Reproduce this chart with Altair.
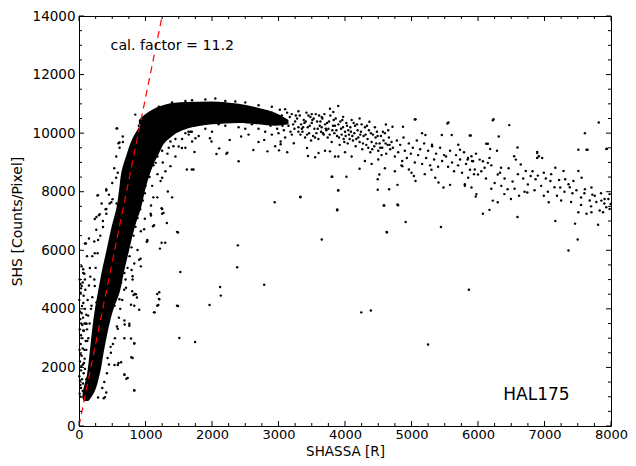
import altair as alt
import pandas as pd

# ---- dense core of the distribution (filled regions) ----
# rising branch: for each SHS level, left and right edge of the solid black band
rise_y = [850, 1000, 1750, 2500, 3200, 4000, 4540, 5300, 6020, 6800, 7470, 8100, 8700, 9300, 9800, 10200, 10400]
rise_xlo = [70, 50, 120, 160, 193, 240, 282, 345, 415, 490, 565, 605, 640, 720, 800, 900, 950]
rise_xhi = [140, 190, 310, 370, 430, 520, 608, 680, 755, 840, 935, 1000, 1080, 1200, 1350, 1700, 2200]

# saturated branch: for each SHASSA value, lower and upper edge of the solid black band
plat_x = [900, 1000, 1100, 1300, 1600, 2000, 2400, 2700, 2950, 3150]
plat_ylo = [10300, 10250, 10200, 10150, 10200, 10300, 10350, 10300, 10250, 10300]
plat_yhi = [10450, 10650, 10800, 10980, 11060, 11080, 11000, 10860, 10700, 10450]

# ---- individual points (SHASSA [R], SHS [Counts/Pixel]) ----
pts = [
    # left fringe / near axis
    (10, 1100), (20, 1400), (5, 1700), (30, 1900), (15, 2200), (40, 2400), (8, 2600), (25, 2800),
    (50, 3000), (12, 3300), (35, 3500), (60, 3700), (18, 3900), (45, 4100), (5, 4300), (70, 4450),
    (30, 4700), (55, 4900), (10, 5000), (80, 5200), (40, 5450), (64, 5350), (104, 6235), (120, 5800),
    (150, 6400), (20, 4850), (90, 4000), (100, 3500), (120, 3300), (80, 2600), (60, 2100), (100, 2900),
    (30, 1300), (45, 1600), (70, 1800), (85, 2300), (110, 3800), (130, 4300), (150, 4800), (170, 5100),
    (200, 5800), (230, 6300), (260, 6700), (300, 7200), (340, 7600), (287, 7884), (410, 8086),
    (485, 7638), (460, 7600), (559, 8480), (583, 8650), (574, 10163), (608, 9681), (658, 9883),
    (846, 10633), (565, 10160), (594, 9658), (411, 8040), (277, 7870), (237, 7070), (312, 7235),
    (504, 7740), (565, 7600),
    (163, 5394), (89, 5004), (40, 4778), (237, 4778), (312, 4442), (262, 4217), (188, 4105),
    (138, 3769), (114, 3490), (64, 3264), (212, 3207), (287, 3432), (411, 7246), (361, 6797),
    (287, 6350), (237, 5899), (262, 7134), (411, 7413), (89, 6235), (64, 5226),
    (25, 1000), (55, 1200), (15, 1550), (60, 1450), (35, 2050), (75, 2150), (20, 2450), (55, 2650),
    (30, 3100), (75, 3250), (50, 3450), (20, 3650), (85, 3500), (40, 3850), (65, 4200), (25, 4550),
    (95, 4650), (110, 2600), (125, 2900), (90, 1950), (110, 1600), (140, 3000), (160, 3500),
    (180, 4000), (200, 4400), (230, 5000), (250, 5400), (280, 5900), (320, 6500), (360, 7000),
    (400, 7400), (450, 7900), (500, 8300), (530, 8800), (560, 9200), (610, 9500), (660, 9700),
    # right fringe of rising band
    (371, 950), (391, 986), (594, 2150), (633, 2177), (683, 1760), (712, 1615), (831, 1222),
    (787, 2345), (831, 2816), (687, 3466), (757, 3422), (905, 3971), (782, 4139), (800, 4600),
    (820, 4470), (841, 4509), (871, 4385), (806, 5004), (791, 5327), (831, 5552), (925, 5710),
    (1019, 6293), (979, 6720), (930, 6653), (990, 7077), (1028, 6316), (1083, 7191), (1113, 6821),
    (1138, 3880), (1192, 4129), (1207, 4331), (1207, 4566), (1217, 6057), (1242, 6259), (1296, 6259),
    (1242, 7437), (1272, 7278), (1321, 6932), (1336, 8009), (1400, 7807), (1118, 7807), (1177, 7807),
    (1083, 7527), (1489, 6606), (1524, 5260), (1489, 4095), (1509, 3005), (1746, 2871), (1963, 4129),
    (2122, 4745), (2132, 4452), (2379, 5418), (2389, 6168), (2785, 4822), (2943, 7639), (3329, 7807),
    (3651, 6370), (3883, 7369), (3898, 8042), (4244, 3880), (4388, 3947), (5249, 2783), (5862, 4654),
    (4630, 6606), (5442, 6797), (7499, 6370), (7361, 5990),
    (583, 3321), (683, 2995), (475, 2702), (430, 2322), (534, 2086), (583, 2086), (683, 1750),
    (732, 1639), (831, 1211), (410, 1144), (287, 976), (782, 2985), (806, 2322), (831, 2827),
    (583, 6740), (633, 6908), (732, 6350), (782, 6572), (905, 5677), (1028, 6350), (1078, 7246),
    (1128, 6852), (1251, 7413), (1251, 7246), (1474, 6629), (683, 5226), (806, 5115), (856, 4499),
    (831, 4105), (1177, 4509), (1202, 4341), (1177, 4105), (1474, 4105), (1128, 3880), (683, 3600),
    (757, 3490), (534, 4105), (608, 4330), (633, 4890), (707, 4720), (880, 6013), (930, 5451),
    (350, 1300), (420, 1800), (480, 2500), (540, 3000), (600, 3700), (650, 4300), (700, 5000),
    (760, 5800), (820, 6500), (880, 7100), (960, 7700), (1000, 8200), (1060, 8500), (1120, 8900),
    (1180, 9200), (1260, 9000), (1330, 9300), (1420, 9550), (1550, 9800), (1650, 9950),
    (1100, 8200), (1180, 8600), (1300, 8700), (1450, 9200), (1600, 9500), (1800, 9900), (2000, 10050),
    (380, 1500), (450, 2100), (510, 2800), (570, 3400), (620, 4000), (680, 4650), (730, 5400),
    (790, 6100), (850, 6800), (920, 7400), (990, 7950), (1040, 8700), (1100, 9050),
    # plateau lower fringe
    (1697, 8760), (1622, 8760), (1375, 8873), (1251, 8480), (1227, 8368), (1548, 9490),
    (1499, 9547), (1153, 8985), (1647, 10050), (1697, 10050), (1375, 9715), (1736, 9355), (1721, 8759),
    (2067, 9288), (2216, 9298), (2400, 9042), (2622, 9422), (2834, 9378), (3008, 9412), (3131, 9345),
    (3443, 9220), (3551, 9176), (3809, 8513), (3329, 7830), (2107, 9480), (2230, 9330), (1993, 9715),
    (1969, 9826), (1751, 9826), (1701, 9715), (1672, 10050), (2266, 9770), (2438, 9883), (3032, 9715),
    (3032, 9624), (2785, 9770), (3230, 9658), (3428, 9490), (3602, 9321), (3774, 9378), (3850, 9200),
    (1300, 9900), (1400, 10100), (1550, 10200), (1600, 10000), (1800, 10300), (1900, 10150),
    (2000, 10350), (2200, 10250), (2300, 10400), (2500, 10150), (2600, 10300), (2800, 10050),
    (2900, 9950), (3100, 9850), (1200, 9700), (1100, 9500), (1050, 9300), (1000, 9100), (1150, 9250),
    (950, 9600), (1250, 9400), (1350, 9500), (1450, 9800), (2550, 9950), (2700, 9700), (2950, 9550),
    (2100, 10300), (2400, 10200), (2700, 10150), (3000, 10000), (3200, 9950), (3300, 10050),
    # plateau top fringe
    (1400, 11050), (1600, 11100), (1900, 11150), (2200, 11100), (2500, 11050), (2700, 10950),
    (2900, 10900), (3100, 10820), (1700, 11120), (2050, 11180), (2350, 11080), (1200, 10900),
    (1000, 10550), (900, 10250), (3300, 10750), (3500, 10650), (3650, 10550),
    # end of dense plateau 2800-3300
    (2800, 10600), (2850, 10400), (2900, 10700), (2950, 10500), (3000, 10350), (3050, 10600),
    (3100, 10450), (3150, 10250), (3200, 10650), (3250, 10400), (3300, 10200), (2880, 10250),
    (2980, 10150), (3080, 10100), (3180, 10050), (3220, 10300), (3280, 10500), (2830, 10750),
    (3130, 10700), (3020, 10800), (3170, 10550), (3240, 10150), (3260, 10600), (3060, 10250),
    # tail 3300-3700
    (3320, 10600), (3340, 10300), (3360, 10050), (3380, 10450), (3400, 9850), (3420, 10700),
    (3440, 10200), (3460, 10000), (3480, 10550), (3500, 10350), (3520, 9900), (3540, 10150),
    (3560, 10650), (3580, 10400), (3600, 9800), (3620, 10250), (3640, 10050), (3660, 10500),
    (3680, 9950), (3700, 10300), (3330, 9950), (3370, 10200), (3410, 10400), (3450, 10600),
    (3490, 9750), (3530, 10500), (3570, 10000), (3610, 10600), (3650, 10200), (3690, 10650),
    (3350, 10150), (3390, 10350), (3430, 9950), (3470, 10250), (3510, 10450), (3550, 9850),
    (3590, 10150), (3630, 10400), (3670, 10000), (3710, 10150),
    # tail 3700-4200
    (3720, 10100), (3740, 9850), (3760, 10400), (3780, 10600), (3800, 9700), (3820, 10250),
    (3840, 10000), (3860, 10500), (3880, 9900), (3900, 10300), (3920, 9600), (3940, 10150),
    (3960, 10450), (3980, 9800), (4000, 10050), (4020, 10350), (4040, 9650), (4060, 9950),
    (4080, 10200), (4100, 10450), (4120, 9750), (4140, 10000), (4160, 9550), (4180, 10300),
    (4200, 9850), (3750, 10150), (3850, 10250), (3950, 9950), (4050, 10100), (4150, 10250),
    (3898, 10926), (3774, 10835), (3824, 10724), (3972, 10556),
    (3730, 10350), (3770, 9950), (3810, 10100), (3830, 10450), (3870, 10100), (3910, 9850),
    (3930, 10400), (3970, 10200), (3990, 9700), (4010, 9900), (4030, 10250), (4070, 9800),
    (4090, 10050), (4110, 9900), (4130, 10350), (4170, 9800), (4190, 10100),
    # tail 4200-4700
    (4219, 10499), (4367, 10387), (4615, 10297), (4714, 10219), (4220, 9700), (4240, 10050),
    (4260, 9450), (4280, 9900), (4300, 10200), (4320, 9600), (4340, 9800), (4360, 10100),
    (4380, 9350), (4400, 9700), (4420, 9950), (4440, 9550), (4460, 9850), (4480, 10050),
    (4500, 9400), (4520, 9650), (4540, 9900), (4560, 9500), (4580, 9750), (4600, 10000),
    (4620, 9300), (4640, 9600), (4660, 9850), (4680, 9450), (4700, 9700), (4250, 10300),
    (4350, 9500), (4450, 10200), (4550, 9250), (4650, 10100),
    (4230, 9950), (4270, 9650), (4310, 9950), (4330, 10250), (4390, 10000), (4410, 9450),
    (4470, 9650), (4490, 9900), (4530, 9500), (4570, 10050), (4610, 9650), (4670, 9600),
    # tail 4700-5500
    (4720, 9500), (4750, 9200), (4780, 9750), (4800, 9350), (4830, 9600), (4860, 9050),
    (4880, 9850), (4900, 9400), (4930, 9150), (4960, 9650), (4990, 9300), (5020, 9500),
    (5050, 9000), (5080, 9750), (5100, 9250), (5130, 9450), (5160, 8950), (5190, 9650),
    (5220, 9150), (5250, 9400), (5280, 8900), (5310, 9550), (5340, 9100), (5370, 9300),
    (5400, 8850), (5430, 9500), (5460, 9050), (5490, 9250), (4872, 10219), (5050, 10465),
    (5159, 9994), (5209, 9937), (5555, 10364), (5605, 9937), (5891, 9917), (5703, 9601),
    (5728, 9432), (5456, 9937), (5308, 9601),
    (3799, 8513), (4022, 8513), (3898, 8053), (4219, 8783), (4492, 8423), (4516, 8591),
    (4664, 8086), (4789, 8234), (5035, 8536), (5060, 8368), (5357, 8480), (5406, 8312),
    (5481, 8143), (5580, 8234), (5802, 8200), (5902, 8143), (4862, 8873), (4961, 8760),
    (4590, 7527), (4789, 7561), (4492, 8066), (4581, 7527), (4798, 7538), (4626, 6629),
    (4912, 6966), (3883, 7393), (5966, 7840),
    (4100, 9200), (4300, 9050), (4400, 8950), (4600, 8800), (4750, 8700), (5000, 8650),
    (5200, 8600), (5300, 8750), (4500, 9100), (4850, 8900), (3700, 9400), (3900, 9200), (4000, 9350),
    # tail 5500-6000
    (5520, 9200), (5550, 8850), (5580, 9400), (5610, 9000), (5640, 8700), (5670, 9250),
    (5700, 8900), (5730, 9100), (5760, 8650), (5790, 9350), (5820, 8950), (5850, 9150),
    (5880, 8750), (5910, 9050), (5940, 8600), (5970, 9300), (5902, 9210), (5843, 9096),
    (5926, 9042), (6025, 9096), (5802, 8255), (5852, 8480), (6000, 8591), (5951, 8760), (5976, 7918),
    # tail 6000-8000
    (6074, 9042), (6099, 8816), (6148, 8985), (6173, 9155), (6347, 8816), (6297, 8591),
    (6544, 9210), (6569, 9096), (6643, 8928), (6718, 8705), (6890, 9321), (6915, 9210),
    (6792, 8536), (6866, 8423), (6990, 8648), (7089, 8368), (7163, 8816), (7286, 8705),
    (7311, 8423), (7361, 8255), (7435, 8368), (7509, 8705), (7558, 8480), (7608, 8086),
    (7706, 8143), (7756, 7863), (7855, 7696), (7904, 7750), (7979, 7918), (7995, 7582),
    (7830, 7359), (7929, 7470), (7979, 7413), (7509, 7302), (7632, 7246), (7706, 7302),
    (7237, 8143), (7188, 7863), (6990, 7863), (7064, 7638), (6742, 7975), (6618, 7863),
    (6445, 8086), (6396, 7918), (6495, 7750), (6223, 7696), (6297, 7638), (6074, 7246),
    (6594, 7134), (6124, 9635), (6148, 9635), (6286, 9399), (6183, 9460), (6223, 10442),
    (6470, 10274), (6312, 9883), (5877, 9917), (7608, 9994), (7816, 10364), (7632, 9432),
    (7509, 9432), (7929, 9456), (6890, 9360), (6890, 9155), (6594, 9511), (6233, 10475),
    (5540, 10330), (5060, 10475), (6173, 7380), (7163, 7000), (7460, 6910), (7806, 6875),
    (6965, 9150), (7648, 9432), (7939, 9466),
    (6050, 8700), (6120, 8450), (6200, 8900), (6250, 8300), (6330, 8650), (6400, 8450),
    (6460, 8800), (6520, 8350), (6600, 8600), (6680, 8450), (6750, 8250), (6820, 8700),
    (6900, 8550), (6950, 8200), (7020, 8450), (7100, 8600), (7150, 8150), (7220, 8400),
    (7300, 8000), (7380, 8150), (7420, 7950), (7480, 8050), (7550, 7800), (7600, 7950),
    (7680, 7700), (7720, 7900), (7780, 7650), (7850, 7950), (7900, 7600), (7960, 7750),
    (6200, 8100), (6350, 8200), (6550, 8100), (6700, 8000), (6850, 8050), (7050, 8000),
    (7250, 7700), (7400, 7650), (7550, 7550), (7700, 7500), (7880, 7300),
]
pt_x = [p[0] for p in pts]
pt_y = [p[1] for p in pts]

# calibration line (cal. factor = 11.2), endpoints
cal_x = [0, 1250]
cal_y = [0, 14000]

x_major = [0, 1000, 2000, 3000, 4000, 5000, 6000, 7000, 8000]
y_major = [0, 2000, 4000, 6000, 8000, 10000, 12000, 14000]
x_minor = [v + d for v in x_major[:-1] for d in (250, 500, 750)]
y_minor = [v + d for v in y_major[:-1] for d in (500, 1000, 1500)]

W, H = 532, 410
FONT = "DejaVu Sans"

xs = alt.Scale(domain=[0, 8000], nice=False, zero=False)
ys = alt.Scale(domain=[0, 14000], nice=False, zero=False)

xaxis = alt.Axis(values=x_major, format="d", ticks=False, domain=False, grid=False, labelFlush=False,
                 labelFontSize=13, labelFont=FONT, labelColor="black", labelPadding=2,
                 title="SHASSA [R]", titleFont=FONT, titleFontSize=13.5, titleFontWeight="normal",
                 titleColor="black", titleBaseline="alphabetic", titleY=29)
yaxis = alt.Axis(values=y_major, format="d", ticks=False, domain=False, grid=False,
                 labelFontSize=13.5, labelFont=FONT, labelColor="black", labelPadding=4,
                 title="SHS [Counts/Pixel]", titleFont=FONT, titleFontSize=14, titleFontWeight="normal",
                 titleColor="black", titleBaseline="middle", titleX=-62)

df_pts = pd.DataFrame({"x": pt_x, "y": pt_y})
df_rise = pd.DataFrame({"y": rise_y, "xlo": rise_xlo, "xhi": rise_xhi})
df_plat = pd.DataFrame({"x": plat_x, "ylo": plat_ylo, "yhi": plat_yhi})
df_cal = pd.DataFrame({"x": cal_x, "y": cal_y})

rise = alt.Chart(df_rise).mark_area(orient="horizontal", color="black", opacity=1, interpolate="monotone").encode(
    y=alt.Y("y:Q", scale=ys, axis=yaxis),
    x=alt.X("xlo:Q", scale=xs, axis=xaxis),
    x2="xhi:Q",
)
plat = alt.Chart(df_plat).mark_area(orient="vertical", color="black", opacity=1, interpolate="monotone").encode(
    x=alt.X("x:Q", scale=xs),
    y=alt.Y("ylo:Q", scale=ys),
    y2="yhi:Q",
)
points = alt.Chart(df_pts).mark_circle(size=6, color="black", opacity=1).encode(
    x=alt.X("x:Q", scale=xs),
    y=alt.Y("y:Q", scale=ys),
)
cal = alt.Chart(df_cal).mark_line(color="#ff0000", strokeWidth=1.2, strokeDash=[7, 5], clip=True).encode(
    x=alt.X("x:Q", scale=xs),
    y=alt.Y("y:Q", scale=ys),
)

ann = alt.Chart(pd.DataFrame({"x": [475], "y": [12854], "t": ["cal. factor = 11.2"]})).mark_text(
    align="left", baseline="alphabetic", font=FONT, fontSize=14.2, color="black"
).encode(x=alt.X("x:Q", scale=xs), y=alt.Y("y:Q", scale=ys), text="t:N")

hal = alt.Chart(pd.DataFrame({"x": [6381], "y": [885], "t": ["HAL175"]})).mark_text(
    align="left", baseline="alphabetic", font=FONT, fontSize=17, color="black"
).encode(x=alt.X("x:Q", scale=xs), y=alt.Y("y:Q", scale=ys), text="t:N")

def xticks(vals, size):
    d = pd.DataFrame({"v": vals})
    bot = alt.Chart(d).mark_rule(color="black", strokeWidth=1).encode(
        x=alt.X("v:Q", scale=xs), y=alt.value(H), y2=alt.value(H - size))
    top = alt.Chart(d).mark_rule(color="black", strokeWidth=1).encode(
        x=alt.X("v:Q", scale=xs), y=alt.value(0), y2=alt.value(size))
    return [bot, top]

def yticks(vals, size):
    d = pd.DataFrame({"v": vals})
    left = alt.Chart(d).mark_rule(color="black", strokeWidth=1).encode(
        y=alt.Y("v:Q", scale=ys), x=alt.value(0), x2=alt.value(size))
    right = alt.Chart(d).mark_rule(color="black", strokeWidth=1).encode(
        y=alt.Y("v:Q", scale=ys), x=alt.value(W), x2=alt.value(W - size))
    return [left, right]

layers = [rise, plat, points, cal, ann, hal]
layers += xticks(x_major, 5) + xticks(x_minor, 3) + yticks(y_major, 5) + yticks(y_minor, 3)

chart = alt.layer(*layers).properties(
    width=W, height=H,
    autosize=alt.AutoSizeParams(type="none"),
    padding={"left": 71, "top": 8, "right": 17, "bottom": 32},
    background="white",
).configure_view(stroke="black", strokeWidth=1)

chart.save("out.html", embed_options={"renderer": "svg", "actions": False})
